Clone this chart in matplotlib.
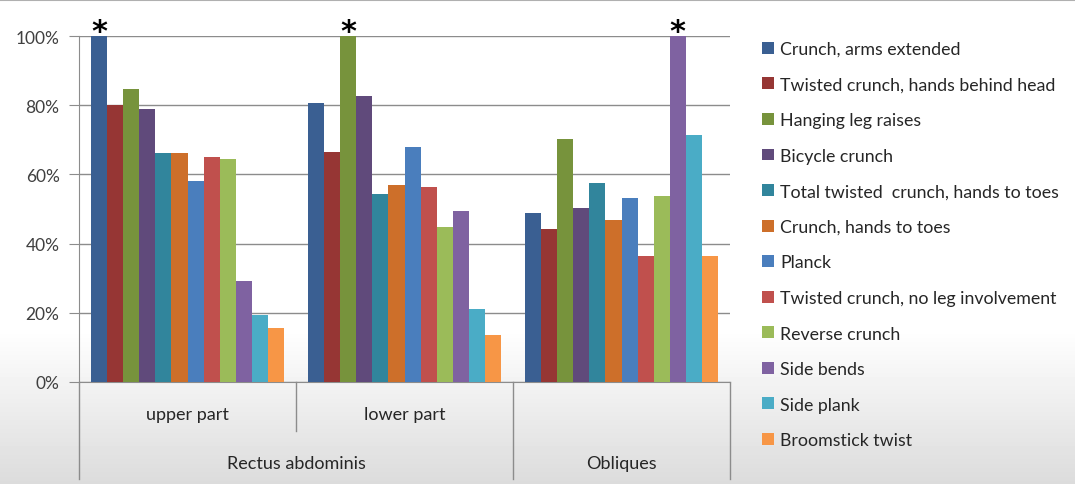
import numpy as np
import matplotlib
matplotlib.use('Agg')
import matplotlib.pyplot as plt

plt.rcParams['font.family'] = ['Lato', 'DejaVu Sans']

# Sub-groups on the category axis and the outer muscle groups
groups = ['upper part', 'lower part', '']
muscles = ['Rectus abdominis', 'Obliques']

exercises = ['Crunch, arms extended', 'Twisted crunch, hands behind head',
             'Hanging leg raises', 'Bicycle crunch',
             'Total twisted  crunch, hands to toes', 'Crunch, hands to toes',
             'Planck', 'Twisted crunch, no leg involvement', 'Reverse crunch',
             'Side bends', 'Side plank', 'Broomstick twist']

# Relative activation (%) per exercise: upper part, lower part, obliques
upper = [100, 80, 84.6, 79, 66.3, 66.3, 58.2, 65, 64.5, 29.2, 19.5, 15.7]
lower = [80.7, 66.6, 100, 82.8, 54.3, 56.8, 68, 56.4, 44.9, 49.3, 21.2, 13.5]
obliques = [48.8, 44.2, 70.1, 50.2, 57.4, 46.7, 53.1, 36.5, 53.9, 100, 71.4, 36.5]

colors = ['#3A5F92', '#963634', '#77933C', '#604A7B', '#31859C', '#CD6F2A',
          '#4A7EBD', '#C0504D', '#9BBB59', '#7F62A1', '#4AACC6', '#F79646']

fig = plt.figure(figsize=(10.75, 4.85), dpi=100)

# background gradient (white at top, light grey at bottom)
bg = fig.add_axes([0, 0, 1, 1], zorder=-10)
grad = np.ones((485, 1))
rows = np.arange(485)
grad[rows > 330, 0] = 1 - (rows[rows > 330] - 330) / 155 * 0.14
bg.imshow(grad, aspect='auto', cmap='gray', vmin=0, vmax=1,
          extent=[0, 1, 0, 1], origin='upper')
bg.axhline(0.998, color='#b0b0b0', lw=1.5)
bg.axis('off')

ax = fig.add_axes([79 / 1075, 102 / 485, 651 / 1075, 346 / 485])
ax.patch.set_alpha(0)

data = np.array([upper, lower, obliques]) / 100
n = len(exercises)
x = np.arange(len(groups))
width = 0.886 / n

for i, name in enumerate(exercises):
    pos = x - 0.443 + width * (i + 0.5)
    ax.bar(pos, data[:, i], width, color=colors[i], label=name, zorder=3)
    # star above the exercise that reaches 100 %
    for j in range(len(groups)):
        if data[j, i] >= 1.0:
            ax.text(pos[j], data[j, i] - 0.03, '*', ha='center', va='bottom',
                    fontsize=22, fontweight='bold', family='DejaVu Sans',
                    clip_on=False)

ax.set_xlim(-0.5, 2.5)
ax.set_ylim(0, 1.0)
ax.set_yticks(np.arange(0, 1.01, 0.2))
ax.set_yticklabels([f'{int(round(v * 100))}%' for v in np.arange(0, 1.01, 0.2)],
                   fontsize=12.5, color='#404040')
ax.set_xticks([])
ax.grid(axis='y', color='#8c8c8c', lw=1, zorder=0)
ax.set_axisbelow(True)
for s in ['top', 'right']:
    ax.spines[s].set_visible(False)
ax.spines['left'].set_color('#8c8c8c')
ax.spines['bottom'].set_color('#8c8c8c')
ax.tick_params(axis='y', length=7, color='#8c8c8c', pad=7)

# two-level category axis
tr = ax.get_xaxis_transform()
ax.plot([-0.5, -0.5], [0, -0.28], color='#8c8c8c', lw=1, transform=tr, clip_on=False)
ax.plot([0.5, 0.5], [0, -0.142], color='#8c8c8c', lw=1, transform=tr, clip_on=False)
ax.plot([1.5, 1.5], [0, -0.28], color='#8c8c8c', lw=1, transform=tr, clip_on=False)
ax.plot([2.5, 2.5], [0, -0.28], color='#8c8c8c', lw=1, transform=tr, clip_on=False)
for j, g in enumerate(groups):
    ax.text(x[j], -0.092, g, transform=tr, ha='center', va='center',
            fontsize=13, color='#262626')
ax.text(0.5, -0.234, muscles[0], transform=tr, ha='center', va='center',
        fontsize=13, color='#262626')
ax.text(2, -0.234, muscles[1], transform=tr, ha='center', va='center',
        fontsize=13, color='#262626')

fig.legend(loc='upper left', bbox_to_anchor=(755 / 1075, 1 - 35 / 485),
           frameon=False, fontsize=12.8, handlelength=0.65, handleheight=0.65,
           handletextpad=0.35, labelspacing=1.1, borderaxespad=0,
           labelcolor='#262626')

fig.savefig('out.png', dpi=100)
